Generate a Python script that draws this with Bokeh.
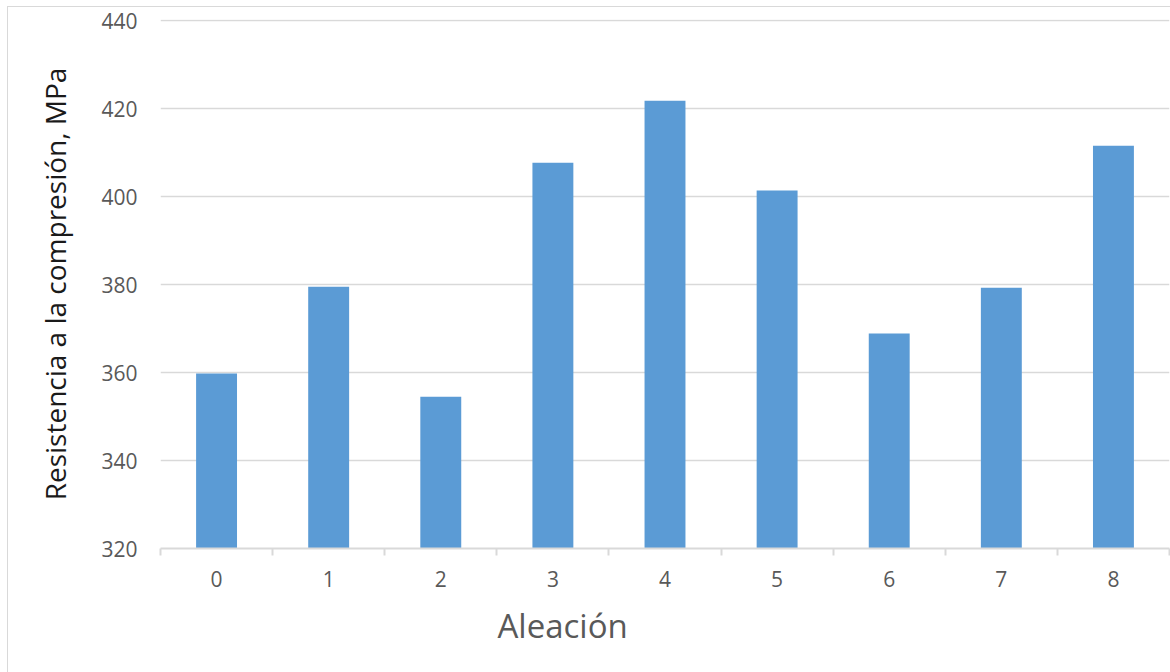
from bokeh.plotting import figure
from bokeh.models import ColumnDataSource, FixedTicker, Range1d, Title
from bokeh.embed import file_html
from bokeh.resources import INLINE

# Data
alloys = [0, 1, 2, 3, 4, 5, 6, 7, 8]
strength = [359.8, 379.5, 354.5, 407.7, 421.8, 401.4, 368.9, 379.3, 411.6]
y_ticks = [320, 340, 360, 380, 400, 420, 440]
x_title = "Aleación"
y_title = "Resistencia a la compresión, MPa"

FONT = "Open Sans"
GRAY = "#595959"
GRID = "#d9d9d9"

src = ColumnDataSource(data=dict(x=alloys, y=strength))

p = figure(width=1170, height=672, output_backend="svg", toolbar_location=None,
           x_range=Range1d(-0.5, 8.5), y_range=Range1d(320, 440.3),
           min_border_left=160, min_border_right=1, min_border_top=19,
           min_border_bottom=124)
p.styles = {
    "background": "linear-gradient(#d9d9d9,#d9d9d9) 7px 6px / 1px 100% no-repeat, "
                  "linear-gradient(#d9d9d9,#d9d9d9) 7px 6px / 100% 1px no-repeat, white"
}
p.outline_line_color = None
p.background_fill_color = "white"
p.border_fill_color = None

p.vbar(x="x", top="y", bottom=320, width=0.365, source=src,
       fill_color="#5B9BD5", line_color=None)

# Y axis
p.yaxis.ticker = FixedTicker(ticks=y_ticks)
p.yaxis.axis_line_color = None
p.yaxis.major_tick_line_color = None
p.yaxis.minor_tick_line_color = None
p.yaxis.major_label_text_font = FONT
p.yaxis.major_label_text_font_size = "21px"
p.yaxis.major_label_text_color = GRAY
p.yaxis.major_label_standoff = 17
p.yaxis.axis_label = y_title
p.yaxis.axis_label_text_font = FONT
p.yaxis.axis_label_text_font_size = "28px"
p.yaxis.axis_label_text_font_style = "normal"
p.yaxis.axis_label_text_color = "#1a1a1a"
p.yaxis.axis_label_standoff = 24

# X axis: ticks at category boundaries, labels at centers
boundaries = [a - 0.5 for a in alloys] + [alloys[-1] + 0.5]
p.xaxis.ticker = FixedTicker(ticks=alloys, minor_ticks=boundaries)
p.xaxis.axis_line_color = GRID
p.xaxis.axis_line_width = 2
p.xaxis.major_tick_line_color = None
p.xaxis.major_tick_out = 0
p.xaxis.major_tick_in = 0
p.xaxis.minor_tick_line_color = GRID
p.xaxis.minor_tick_line_width = 2
p.xaxis.minor_tick_out = 7
p.xaxis.minor_tick_in = 0
p.xaxis.major_label_text_font = FONT
p.xaxis.major_label_text_font_size = "21px"
p.xaxis.major_label_text_color = GRAY
p.xaxis.major_label_standoff = 15

p.add_layout(Title(text=x_title, align="left", offset=337, standoff=22,
                   text_font=FONT, text_font_size="33px",
                   text_font_style="normal", text_color=GRAY), "below")

# Grid
p.xgrid.grid_line_color = None
p.ygrid.ticker = FixedTicker(ticks=y_ticks)
p.ygrid.grid_line_color = GRID
p.ygrid.grid_line_width = 1.5

open("out.html", "w").write(file_html(p, INLINE))
